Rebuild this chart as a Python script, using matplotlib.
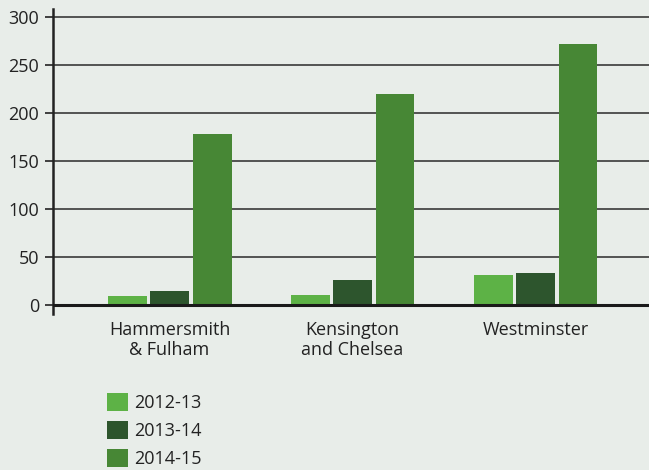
import matplotlib
matplotlib.use("Agg")
import matplotlib.pyplot as plt
import numpy as np
from matplotlib.patches import Patch

boroughs = ["Hammersmith\n& Fulham", "Kensington\nand Chelsea", "Westminster"]
years = ["2012-13", "2013-14", "2014-15"]
v_2012 = [10, 11, 32]
v_2013 = [15, 26, 34]
v_2014 = [178, 220, 272]
yticks = [0, 50, 100, 150, 200, 250, 300]

colors = ["#5db246", "#2d552d", "#478735"]
bg = "#e8ede9"

plt.rcParams['font.family'] = ['Open Sans', 'DejaVu Sans']

fig = plt.figure(figsize=(6.49, 4.70), dpi=100, facecolor=bg)
ax = fig.add_axes([53 / 649, 1 - 314 / 470, 1 - 53 / 649, (314 - 9.3) / 470])
ax.set_facecolor(bg)

x = np.arange(len(boroughs))
width = 0.213
step = 0.232
for i, vals in enumerate([v_2012, v_2013, v_2014]):
    ax.bar(x + (i - 1) * step, vals, width, color=colors[i], zorder=3, label=years[i])

ax.set_xlim(-0.637, 2.62)
ax.set_ylim(-9, 308)
ax.set_yticks(yticks)
for t in yticks[1:]:
    ax.axhline(t, color="#2a2a2a", lw=1.1, zorder=1)
ax.axhline(0, color="#1a1a1a", lw=2.2, zorder=4)

for s in ["top", "right", "bottom"]:
    ax.spines[s].set_visible(False)
ax.spines["left"].set_color("#222222")
ax.spines["left"].set_linewidth(1.8)

ax.tick_params(axis="y", length=6, width=1.2, color="#222222", labelsize=13,
               labelcolor="#222222", pad=4)
ax.set_xticks(x)
ax.set_xticklabels(boroughs, fontsize=13, color="#222222", linespacing=1.15)
ax.tick_params(axis="x", length=0, pad=5)

handles = [Patch(facecolor=c, edgecolor="none") for c in colors]
fig.legend(handles, years, loc="upper left", bbox_to_anchor=(107 / 649, 1 - 393 / 470),
           frameon=False, fontsize=13, handlelength=1.15, handleheight=1.15,
           handletextpad=0.35, labelspacing=0.5, borderpad=0, borderaxespad=0,
           labelcolor="#222222")

fig.savefig("out.png", dpi=100, facecolor=bg)
